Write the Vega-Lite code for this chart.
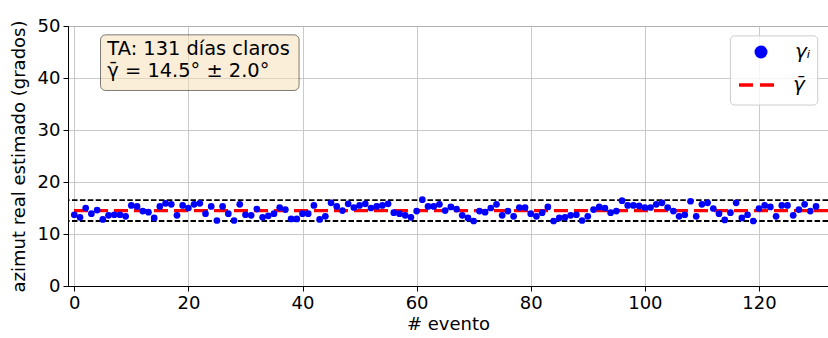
{
  "$schema": "https://vega.github.io/schema/vega-lite/v6.json",
  "width": 760,
  "height": 260,
  "autosize": "none",
  "padding": {"left": 68, "top": 26, "right": 0, "bottom": 52},
  "background": "white",
  "config": {
    "view": {"stroke": "black", "strokeWidth": 1},
    "axis": {
      "labelFont": "DejaVu Sans", "titleFont": "DejaVu Sans",
      "labelFontSize": 18, "titleFontSize": 18, "titleFontWeight": "normal",
      "labelColor": "black", "titleColor": "black",
      "tickColor": "black", "domainColor": "black", "tickSize": 5,
      "gridColor": "#c4c4c4", "gridWidth": 0.9, "labelPadding": 3
    },
    "legend": {
      "labelFont": "DejaVu Sans", "labelFontStyle": "italic", "labelFontSize": 20, "labelColor": "black",
      "padding": 0, "orient": "none"
    }
  },
  "layer": [
    {
      "data": {"values": [{"lim": 16.5}, {"lim": 12.5}]},
      "mark": {"type": "rule", "stroke": "black", "strokeWidth": 1.8, "strokeDash": [5.5, 2.4]},
      "encoding": {"y": {"field": "lim", "type": "quantitative"}}
    },
    {
      "data": {"values": [{"media": 14.5, "serie": "γ̄"}]},
      "mark": {"type": "rule", "strokeWidth": 3.3, "strokeDash": [14, 6]},
      "encoding": {
        "y": {"field": "media", "type": "quantitative"},
        "stroke": {"field": "serie", "type": "nominal", "scale": {"range": ["red"]},
                   "legend": {"title": null, "legendX": 669, "legendY": 39, "symbolType": "stroke",
                              "symbolSize": 1296, "symbolStrokeWidth": 3.5, "symbolDash": [14, 7],
                              "labelOffset": 16}}
      }
    },
    {
      "data": {"values": [
        {"evento":0,"azimut":13.7,"serie":"γᵢ"},{"evento":1,"azimut":13.2,"serie":"γᵢ"},{"evento":2,"azimut":15.0,"serie":"γᵢ"},{"evento":3,"azimut":13.9,"serie":"γᵢ"},{"evento":4,"azimut":14.6,"serie":"γᵢ"},{"evento":5,"azimut":12.8,"serie":"γᵢ"},{"evento":6,"azimut":13.6,"serie":"γᵢ"},{"evento":7,"azimut":13.7,"serie":"γᵢ"},{"evento":8,"azimut":13.7,"serie":"γᵢ"},{"evento":9,"azimut":13.4,"serie":"γᵢ"},
        {"evento":10,"azimut":15.5,"serie":"γᵢ"},{"evento":11,"azimut":15.3,"serie":"γᵢ"},{"evento":12,"azimut":14.4,"serie":"γᵢ"},{"evento":13,"azimut":14.2,"serie":"γᵢ"},{"evento":14,"azimut":13.1,"serie":"γᵢ"},{"evento":15,"azimut":15.3,"serie":"γᵢ"},{"evento":16,"azimut":15.9,"serie":"γᵢ"},{"evento":17,"azimut":15.7,"serie":"γᵢ"},{"evento":18,"azimut":13.6,"serie":"γᵢ"},{"evento":19,"azimut":15.5,"serie":"γᵢ"},
        {"evento":20,"azimut":15.0,"serie":"γᵢ"},{"evento":21,"azimut":15.7,"serie":"γᵢ"},{"evento":22,"azimut":15.9,"serie":"γᵢ"},{"evento":23,"azimut":13.9,"serie":"γᵢ"},{"evento":24,"azimut":15.3,"serie":"γᵢ"},{"evento":25,"azimut":12.6,"serie":"γᵢ"},{"evento":26,"azimut":15.3,"serie":"γᵢ"},{"evento":27,"azimut":13.9,"serie":"γᵢ"},{"evento":28,"azimut":12.6,"serie":"γᵢ"},{"evento":29,"azimut":15.7,"serie":"γᵢ"},
        {"evento":30,"azimut":13.7,"serie":"γᵢ"},{"evento":31,"azimut":13.6,"serie":"γᵢ"},{"evento":32,"azimut":14.8,"serie":"γᵢ"},{"evento":33,"azimut":13.2,"serie":"γᵢ"},{"evento":34,"azimut":13.5,"serie":"γᵢ"},{"evento":35,"azimut":13.9,"serie":"γᵢ"},{"evento":36,"azimut":15.1,"serie":"γᵢ"},{"evento":37,"azimut":14.7,"serie":"γᵢ"},{"evento":38,"azimut":12.9,"serie":"γᵢ"},{"evento":39,"azimut":12.9,"serie":"γᵢ"},
        {"evento":40,"azimut":13.9,"serie":"γᵢ"},{"evento":41,"azimut":13.9,"serie":"γᵢ"},{"evento":42,"azimut":15.5,"serie":"γᵢ"},{"evento":43,"azimut":12.8,"serie":"γᵢ"},{"evento":44,"azimut":13.4,"serie":"γᵢ"},{"evento":45,"azimut":16.0,"serie":"γᵢ"},{"evento":46,"azimut":15.3,"serie":"γᵢ"},{"evento":47,"azimut":14.5,"serie":"γᵢ"},{"evento":48,"azimut":15.8,"serie":"γᵢ"},{"evento":49,"azimut":15.1,"serie":"γᵢ"},
        {"evento":50,"azimut":15.5,"serie":"γᵢ"},{"evento":51,"azimut":15.8,"serie":"γᵢ"},{"evento":52,"azimut":15.0,"serie":"γᵢ"},{"evento":53,"azimut":15.3,"serie":"γᵢ"},{"evento":54,"azimut":15.5,"serie":"γᵢ"},{"evento":55,"azimut":15.8,"serie":"γᵢ"},{"evento":56,"azimut":14.1,"serie":"γᵢ"},{"evento":57,"azimut":13.9,"serie":"γᵢ"},{"evento":58,"azimut":13.6,"serie":"γᵢ"},{"evento":59,"azimut":13.2,"serie":"γᵢ"},
        {"evento":60,"azimut":14.4,"serie":"γᵢ"},{"evento":61,"azimut":16.6,"serie":"γᵢ"},{"evento":62,"azimut":15.3,"serie":"γᵢ"},{"evento":63,"azimut":15.3,"serie":"γᵢ"},{"evento":64,"azimut":15.7,"serie":"γᵢ"},{"evento":65,"azimut":14.5,"serie":"γᵢ"},{"evento":66,"azimut":15.2,"serie":"γᵢ"},{"evento":67,"azimut":14.8,"serie":"γᵢ"},{"evento":68,"azimut":13.6,"serie":"γᵢ"},{"evento":69,"azimut":13.1,"serie":"γᵢ"},
        {"evento":70,"azimut":12.5,"serie":"γᵢ"},{"evento":71,"azimut":14.4,"serie":"γᵢ"},{"evento":72,"azimut":14.2,"serie":"γᵢ"},{"evento":73,"azimut":15.0,"serie":"γᵢ"},{"evento":74,"azimut":15.7,"serie":"γᵢ"},{"evento":75,"azimut":13.6,"serie":"γᵢ"},{"evento":76,"azimut":14.4,"serie":"γᵢ"},{"evento":77,"azimut":13.4,"serie":"γᵢ"},{"evento":78,"azimut":15.1,"serie":"γᵢ"},{"evento":79,"azimut":15.1,"serie":"γᵢ"},
        {"evento":80,"azimut":13.9,"serie":"γᵢ"},{"evento":81,"azimut":13.4,"serie":"γᵢ"},{"evento":82,"azimut":14.1,"serie":"γᵢ"},{"evento":83,"azimut":15.2,"serie":"γᵢ"},{"evento":84,"azimut":12.5,"serie":"γᵢ"},{"evento":85,"azimut":13.1,"serie":"γᵢ"},{"evento":86,"azimut":13.2,"serie":"γᵢ"},{"evento":87,"azimut":13.6,"serie":"γᵢ"},{"evento":88,"azimut":13.7,"serie":"γᵢ"},{"evento":89,"azimut":12.6,"serie":"γᵢ"},
        {"evento":90,"azimut":13.4,"serie":"γᵢ"},{"evento":91,"azimut":14.7,"serie":"γᵢ"},{"evento":92,"azimut":15.2,"serie":"γᵢ"},{"evento":93,"azimut":15.0,"serie":"γᵢ"},{"evento":94,"azimut":14.1,"serie":"γᵢ"},{"evento":95,"azimut":14.4,"serie":"γᵢ"},{"evento":96,"azimut":16.4,"serie":"γᵢ"},{"evento":97,"azimut":15.5,"serie":"γᵢ"},{"evento":98,"azimut":15.5,"serie":"γᵢ"},{"evento":99,"azimut":15.4,"serie":"γᵢ"},
        {"evento":100,"azimut":15.1,"serie":"γᵢ"},{"evento":101,"azimut":15.1,"serie":"γᵢ"},{"evento":102,"azimut":15.7,"serie":"γᵢ"},{"evento":103,"azimut":16.0,"serie":"γᵢ"},{"evento":104,"azimut":15.1,"serie":"γᵢ"},{"evento":105,"azimut":14.4,"serie":"γᵢ"},{"evento":106,"azimut":13.4,"serie":"γᵢ"},{"evento":107,"azimut":13.7,"serie":"γᵢ"},{"evento":108,"azimut":16.3,"serie":"γᵢ"},{"evento":109,"azimut":13.4,"serie":"γᵢ"},
        {"evento":110,"azimut":15.7,"serie":"γᵢ"},{"evento":111,"azimut":16.0,"serie":"γᵢ"},{"evento":112,"azimut":14.9,"serie":"γᵢ"},{"evento":113,"azimut":13.9,"serie":"γᵢ"},{"evento":114,"azimut":12.7,"serie":"γᵢ"},{"evento":115,"azimut":14.1,"serie":"γᵢ"},{"evento":116,"azimut":16.0,"serie":"γᵢ"},{"evento":117,"azimut":13.1,"serie":"γᵢ"},{"evento":118,"azimut":13.7,"serie":"γᵢ"},{"evento":119,"azimut":12.5,"serie":"γᵢ"},
        {"evento":120,"azimut":14.9,"serie":"γᵢ"},{"evento":121,"azimut":15.5,"serie":"γᵢ"},{"evento":122,"azimut":15.2,"serie":"γᵢ"},{"evento":123,"azimut":13.4,"serie":"γᵢ"},{"evento":124,"azimut":15.5,"serie":"γᵢ"},{"evento":125,"azimut":15.5,"serie":"γᵢ"},{"evento":126,"azimut":13.6,"serie":"γᵢ"},{"evento":127,"azimut":14.7,"serie":"γᵢ"},{"evento":128,"azimut":15.7,"serie":"γᵢ"},{"evento":129,"azimut":14.4,"serie":"γᵢ"},
        {"evento":130,"azimut":15.3,"serie":"γᵢ"}
      ]},
      "mark": {"type": "point", "filled": true, "opacity": 1, "size": 45, "shape": "circle"},
      "encoding": {
        "x": {"field": "evento", "type": "quantitative",
              "scale": {"domain": [-1.1, 132.1], "nice": false, "zero": false},
              "axis": {"title": "# evento", "values": [0, 20, 40, 60, 80, 100, 120], "titlePadding": 3}},
        "y": {"field": "azimut", "type": "quantitative",
              "scale": {"domain": [0, 50], "nice": false},
              "axis": {"title": "azimut real estimado (grados)", "values": [0, 10, 20, 30, 40, 50], "titlePadding": 9}},
        "color": {"field": "serie", "type": "nominal",
                  "scale": {"range": ["blue"]},
                  "legend": {"title": null, "legendX": 683, "legendY": 16, "symbolSize": 169,
                             "symbolOpacity": 1, "labelOffset": 24}}
      }
    },
    {
      "data": {"values": [{}]},
      "mark": {"type": "rect", "fill": "white", "fillOpacity": 0.8, "stroke": "#cccccc", "strokeWidth": 1, "cornerRadius": 4},
      "encoding": {
        "x": {"datum": 115.0, "type": "quantitative"},
        "x2": {"datum": 130.3},
        "y": {"datum": 48.1, "type": "quantitative"},
        "y2": {"datum": 34.8}
      }
    },
    {
      "data": {"values": [{}]},
      "mark": {"type": "rect", "fill": "#f5deb3", "fillOpacity": 0.5, "stroke": "black", "strokeOpacity": 0.5, "strokeWidth": 1, "cornerRadius": 5},
      "encoding": {
        "x": {"datum": 4.6, "type": "quantitative"},
        "x2": {"datum": 39.4},
        "y": {"datum": 48.3, "type": "quantitative"},
        "y2": {"datum": 37.6}
      }
    },
    {
      "data": {"values": [{}]},
      "mark": {"type": "text", "text": "TA: 131 días claros", "align": "left", "baseline": "alphabetic", "font": "DejaVu Sans", "fontSize": 19.4, "fill": "black"},
      "encoding": {"x": {"datum": 5.8, "type": "quantitative"}, "y": {"datum": 44.4, "type": "quantitative"}}
    },
    {
      "data": {"values": [{}]},
      "mark": {"type": "text", "text": "γ̄ = 14.5° ± 2.0°", "align": "left", "baseline": "alphabetic", "font": "DejaVu Sans", "fontSize": 19.4, "fill": "black"},
      "encoding": {"x": {"datum": 5.8, "type": "quantitative"}, "y": {"datum": 40.1, "type": "quantitative"}}
    }
  ]
}
